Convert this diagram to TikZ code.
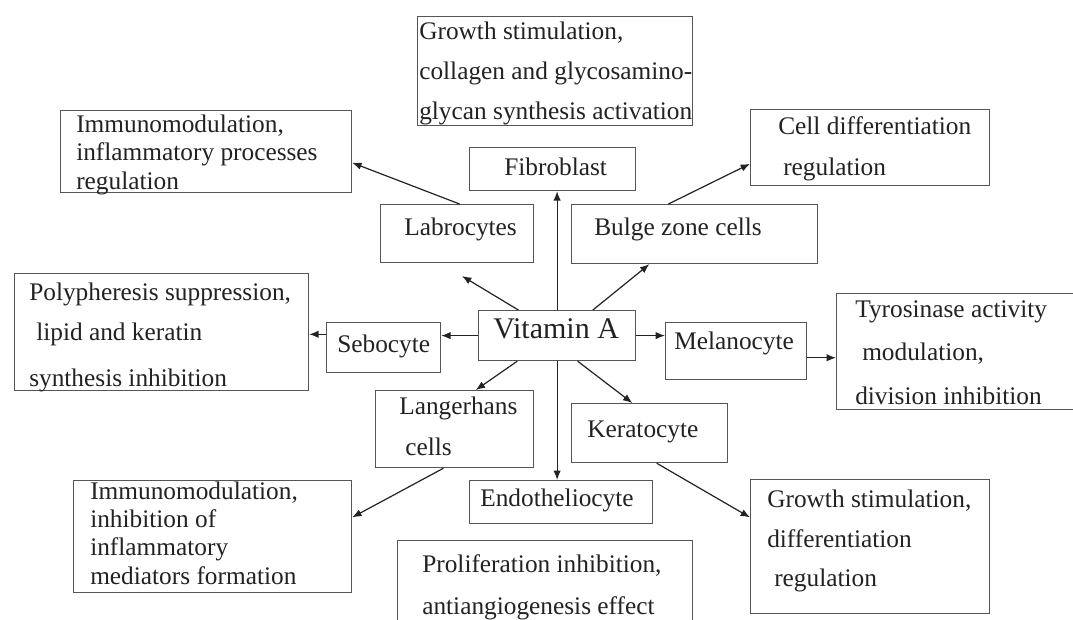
\documentclass[tikz,border=0pt]{standalone}
\usepackage{fontspec}
\setmainfont{Liberation Serif}
\usetikzlibrary{arrows.meta,calc}
\definecolor{ink}{HTML}{222222}
\definecolor{edge}{HTML}{555555}
\tikzset{
  box/.style={draw=edge, line width=0.9pt, rectangle, inner sep=0pt},
  txt/.style={inner sep=0pt, text=ink, font=\fontsize{19}{22}\selectfont},
  bigtxt/.style={inner sep=0pt, text=ink, font=\fontsize{22.5}{26}\selectfont},
  arr/.style={draw=ink, line width=0.9pt, -{Latex[length=7pt,width=5.5pt]}}
}
\newcommand\bx[5]{\node[box, anchor=north west, minimum width={(#4-#2)*0.75pt}, minimum height={(#5-#3)*0.75pt}] (#1) at (#2,#3) {};}
\newcommand\tx[4]{\node[txt, anchor=base west] (#1) at (#2,#3+7) {#4};}
\begin{document}
\begin{tikzpicture}[x=0.75pt,y=-0.75pt]
\useasboundingbox (0,0) rectangle (1073,619);
\clip (0,0) rectangle (1073,619);
% boxes
\bx{top}{417}{16}{692}{125}
\bx{imma}{60}{110}{351}{192}
\bx{fib}{469}{147}{635}{190}
\bx{lab}{380}{204}{533}{262}
\bx{bulge}{571}{204}{817}{263}
\bx{cd}{750}{109}{989}{185}
\bx{poly}{14}{273}{308}{390}
\bx{seb}{326}{322}{440}{372}
\bx{vit}{478}{310}{635}{360}
\bx{mel}{665}{322}{806}{379}
\bx{tyr}{836}{293}{1085}{409}
\bx{lang}{375}{390}{533}{467}
\bx{ker}{571}{403}{727}{462}
\bx{endo}{469}{480}{652}{523}
\bx{immb}{73}{480}{351}{592}
\bx{prolif}{397}{540}{692}{650}
\bx{growb}{750}{479}{989}{613}
% texts
\tx{topa}{419}{32}{Growth stimulation,}
\tx{topb}{419}{72}{collagen and glycosamino-}
\tx{topc}{419}{112}{glycan synthesis activation}
\tx{immaa}{76}{125}{Immunomodulation,}
\tx{immab}{76}{153}{inflammatory processes}
\tx{immac}{76}{182}{regulation}
\tx{fibt}{504}{168}{Fibroblast}
\tx{labt}{404}{228}{Labrocytes}
\tx{bulget}{594}{228}{Bulge zone cells}
\tx{cda}{778}{127}{Cell differentiation}
\tx{cdb}{783}{168}{regulation}
\tx{polya}{29}{293}{Polypheresis suppression,}
\tx{polyb}{36}{333}{lipid and keratin}
\tx{polyc}{29}{379}{synthesis inhibition}
\tx{sebt}{337}{345}{Sebocyte}
\node[bigtxt, anchor=base west] (vitt) at (493,338) {Vitamin A};
\tx{melt}{674}{342}{Melanocyte}
\tx{tyra}{855}{310}{Tyrosinase activity}
\tx{tyrb}{862}{353}{modulation,}
\tx{tyrc}{855}{397}{division inhibition}
\tx{langa}{399}{407}{Langerhans}
\tx{langb}{405}{448}{cells}
\tx{kert}{587}{430}{Keratocyte}
\tx{endot}{480}{499}{Endotheliocyte}
\tx{immba}{90}{492}{Immunomodulation,}
\tx{immbb}{90}{520}{inhibition of}
\tx{immbc}{90}{548}{inflammatory}
\tx{immbd}{90}{577}{mediators formation}
\tx{prolifa}{422}{565}{Proliferation inhibition,}
\tx{prolifb}{422}{607}{antiangiogenesis effect}
\tx{growba}{767}{500}{Growth stimulation,}
\tx{growbb}{767}{540}{differentiation}
\tx{growbc}{774}{579}{regulation}
% connectors
\coordinate (labtip) at (462,276);
\draw[arr] (vit.north) -- (vit.north |- fib.south);
\draw[arr] (vit.south) -- (vit.south |- endo.north);
\draw[arr] ($(vit.north west)!0.255!(vit.north east)$) -- (labtip);
\draw[arr] ($(vit.north west)!0.726!(vit.north east)$) -- ($(bulge.south west)!0.317!(bulge.south east)$);
\draw[arr] ($(vit.south west)!0.248!(vit.south east)$) -- ($(lang.north west)!0.633!(lang.north east)$);
\draw[arr] ($(vit.south west)!0.63!(vit.south east)$) -- ($(ker.north west)!0.39!(ker.north east)$);
\draw[arr] (vit.west) -- (vit.west -| seb.east);
\draw[arr] (vit.east) -- (vit.east -| mel.west);
\draw[arr] ($(lab.north west)!0.516!(lab.north east)$) -- ($(imma.north east)!0.634!(imma.south east)$);
\draw[arr] ($(bulge.north west)!0.394!(bulge.north east)$) -- ($(cd.north west)!0.71!(cd.south west)$);
\coordinate (sebout) at ($(seb.north west)!0.24!(seb.south west)$);
\draw[arr] (sebout) -- (sebout -| poly.east);
\coordinate (melout) at ($(mel.north east)!0.614!(mel.south east)$);
\draw[arr] (melout) -- (melout -| tyr.west);
\draw[arr] ($(lang.south west)!0.43!(lang.south east)$) -- ($(immb.north east)!0.33!(immb.south east)$);
\draw[arr] ($(ker.south west)!0.545!(ker.south east)$) -- ($(growb.north west)!0.284!(growb.south west)$);
\end{tikzpicture}
\end{document}
